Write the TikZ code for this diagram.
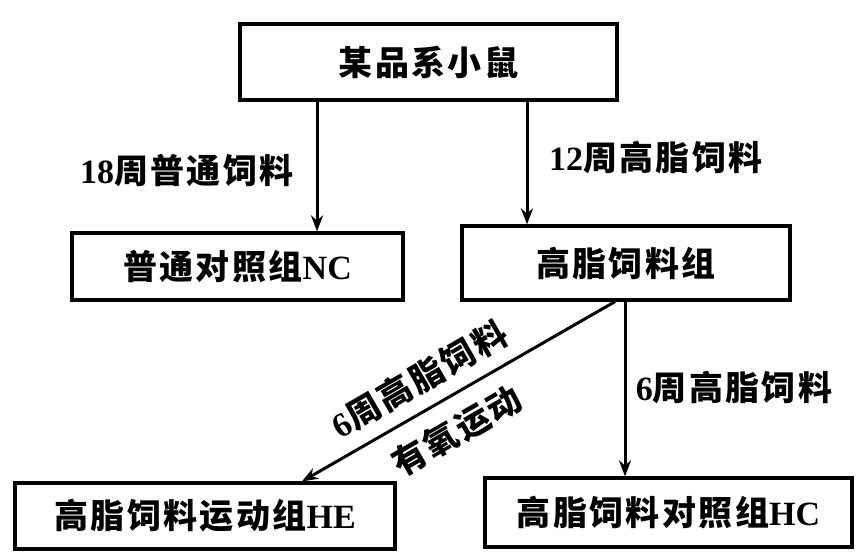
\documentclass[tikz,border=0pt]{standalone}
\usepackage{fontspec}
\setmainfont{Noto Sans CJK SC}[LetterSpace=7]
\newfontfamily\lat{Liberation Serif}
\usetikzlibrary{arrows.meta}
\tikzset{
  box/.style={draw, line width=3.2pt, inner sep=0pt, font=\fontsize{34}{40}\selectfont\bfseries},
  lab/.style={inner sep=0pt, font=\fontsize{34}{40}\selectfont\bfseries},
  arr/.style={line width=3pt, -{Stealth[length=16pt,width=12pt]}},
}
\newcommand\dg[1]{{\lat\bfseries #1}}
\begin{document}
\begin{tikzpicture}[x=1pt,y=-1pt]
\useasboundingbox (0,0) rectangle (858,551);
\node[box, minimum width=377pt, minimum height=76pt] (top) at (428.5,62) {某品系小鼠};
\node[box, minimum width=331pt, minimum height=67pt] (nc) at (237.5,266.5) {普通对照组\dg{NC}};
\node[box, minimum width=328pt, minimum height=74pt] (hf) at (626,263) {高脂饲料组};
\node[box, minimum width=380pt, minimum height=66pt] (he) at (205,516) {高脂饲料运动组\dg{HE}};
\node[box, minimum width=367pt, minimum height=69pt] (hc) at (668.5,512.5) {高脂饲料对照组\dg{HC}};
\draw[arr] ([xshift=-111.5pt]top.south) -- ([xshift=-111.5pt]top.south |- nc.north);
\draw[arr] ([xshift=98.5pt]top.south) -- ([xshift=98.5pt]top.south |- hf.north);
\draw[arr] ([xshift=-11pt]hf.south) -- ([xshift=97pt]he.north);
\draw[arr] ([xshift=-1pt]hf.south) -- ([xshift=-1pt]hf.south |- hc.north);
\node[lab] (l1) at (187,171) {\dg{18}周普通饲料};
\node[lab] (l2) at (656,157) {\dg{12}周高脂饲料};
\node[lab] (l3) at (734,387) {\dg{6}周高脂饲料};
\node[lab, rotate=30] (l4) at (419,379) {\dg{6}周高脂饲料};
\node[lab, rotate=30] (l5) at (457,431) {有氧运动};
\end{tikzpicture}
\end{document}
